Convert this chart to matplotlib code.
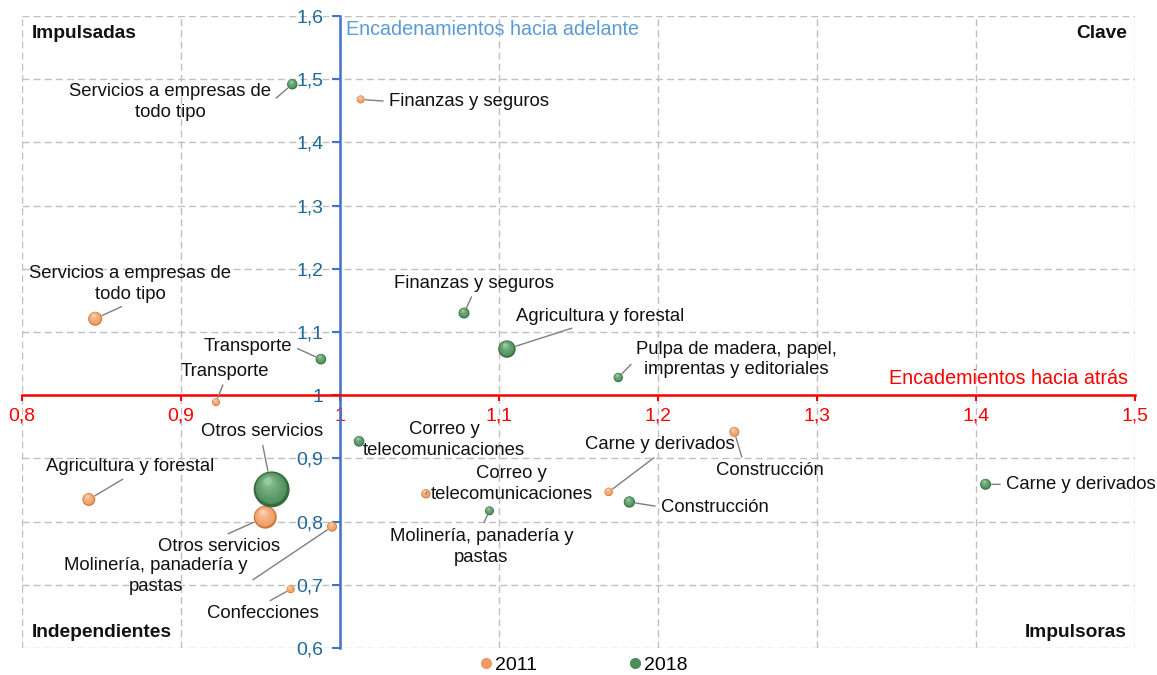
import numpy as np
import matplotlib
matplotlib.use("Agg")
import matplotlib.pyplot as plt
from matplotlib.ticker import FuncFormatter
from matplotlib.transforms import offset_copy
from matplotlib.lines import Line2D

plt.rcParams['font.family'] = ['Liberation Sans', 'DejaVu Sans']

# ---------------- data ----------------
sectores_2011 = ['Finanzas y seguros', 'Servicios a empresas de\ntodo tipo', 'Transporte',
                 'Agricultura y forestal', 'Otros servicios', 'Molinería, panadería y\npastas',
                 'Confecciones', 'Correo y\ntelecomunicaciones', 'Carne y derivados', 'Construcción']
atras_2011 = [1.013, 0.846, 0.922, 0.842, 0.953, 0.995, 0.969, 1.054, 1.169, 1.248]
adelante_2011 = [1.468, 1.121, 0.989, 0.835, 0.807, 0.792, 0.693, 0.844, 0.847, 0.942]
peso_2011 = [16, 49, 16, 42, 132, 25, 16, 22, 18, 25]

sectores_2018 = ['Servicios a empresas de\ntodo tipo', 'Finanzas y seguros', 'Agricultura y forestal',
                 'Transporte', 'Pulpa de madera, papel,\nimprentas y editoriales',
                 'Correo y\ntelecomunicaciones', 'Otros servicios', 'Molinería, panadería y\npastas',
                 'Construcción', 'Carne y derivados']
atras_2018 = [0.970, 1.078, 1.105, 0.988, 1.175, 1.012, 0.957, 1.094, 1.182, 1.406]
adelante_2018 = [1.492, 1.130, 1.073, 1.057, 1.028, 0.927, 0.851, 0.817, 0.831, 0.859]
peso_2018 = [27, 30, 76, 28, 22, 28, 324, 20, 32, 30]

# label offsets (pixels) relative to each point and leader attachment on the label box
off_2011 = [(108, -2), (35, 35), (9, 31), (41, 33), (-46, -29), (-176, -49),
            (-28, -24), (86, 10), (51, 47), (36, -39)]
rel_2011 = [(0, 0.5), (0.5, 0), (0.5, 0), (0.5, 0), (0.5, 1), (1, 0.3),
            (0.5, 1), (0, 0.5), (0.5, 0), (0.25, 1)]
off_2018 = [(-122, -18), (10, 30), (93, 33), (-73, 13), (118, 18), (85, 1),
            (-10, 58), (-8, -36), (85, -5), (95, 0)]
rel_2018 = [(1, 0.5), (0.5, 0), (0.4, 0), (1, 0.5), (0, 0.5), (0, 0.5),
            (0.5, 0), (0.5, 1), (0, 0.5), (0, 0.5)]

x_ticks = [0.8, 0.9, 1.0, 1.1, 1.2, 1.3, 1.4, 1.5]
y_ticks = [0.6, 0.7, 0.8, 0.9, 1.0, 1.1, 1.2, 1.3, 1.4, 1.5, 1.6]

# ---------------- figure ----------------
W, H = 1157, 675
fig = plt.figure(figsize=(W / 100, H / 100), dpi=100)
ax = fig.add_axes([22 / W, (H - 648) / H, (1135 - 22) / W, (648 - 16) / H])
ax.set_xlim(0.8, 1.5)
ax.set_ylim(0.6, 1.6)
ax.set_xticks(x_ticks)
ax.set_yticks(y_ticks)


def fmt(v, pos=None):
    s = f'{v:.1f}'
    if s.endswith('.0'):
        s = s[:-2]
    return s.replace('.', ',')


ax.xaxis.set_major_formatter(FuncFormatter(fmt))
ax.yaxis.set_major_formatter(FuncFormatter(fmt))

ax.grid(True, color='#BFBFBF', linestyle=(0, (5, 3)), linewidth=1)
ax.set_axisbelow(True)
for g in ax.get_xgridlines() + ax.get_ygridlines():
    g.set_clip_on(False)

ax.spines['top'].set_visible(False)
ax.spines['right'].set_visible(False)
ax.spines['left'].set_position(('data', 1.0))
ax.spines['bottom'].set_position(('data', 1.0))
ax.spines['left'].set_color('#4472C4')
ax.spines['left'].set_linewidth(1.8)
ax.spines['bottom'].set_color('#FF0000')
ax.spines['bottom'].set_linewidth(1.8)
ax.spines['left'].set_zorder(2.5)
ax.spines['bottom'].set_zorder(2.5)

ax.tick_params(axis='x', direction='out', length=4, width=1.5, color='#FF0000',
               labelcolor='#FF0000', labelsize=14, pad=5)
ax.tick_params(axis='y', direction='out', length=6, width=1.5, color='#4472C4',
               labelcolor='#1F6A96', labelsize=14, pad=6)

# ---------------- bubbles ----------------
SCALE = 2.07  # points^2 per weight unit


def sphere(x, y, peso, dark, base, light):
    s = peso * SCALE
    r_pt = np.sqrt(s) / 2
    ax.scatter([x], [y], s=s, color=dark, edgecolors='none', zorder=3)
    n = 9
    for i in range(1, n + 1):
        t = i / n
        frac = 1 - 0.8 * t
        c = np.array(matplotlib.colors.to_rgb(base)) * (1 - t) ** 0.6 + \
            np.array(matplotlib.colors.to_rgb(light)) * (1 - (1 - t) ** 0.6)
        if i == 1:
            c = matplotlib.colors.to_rgb(base)
        dx = -(1 - frac) * r_pt * 0.25
        dy = (1 - frac) * r_pt * 0.55
        tr = offset_copy(ax.transData, fig=fig, x=dx, y=dy, units='points')
        ax.scatter([x], [y], s=s * (frac * (0.96 if i == 1 else 1)) ** 2, color=c,
                   edgecolors='none', zorder=3, transform=tr)
    return r_pt


orange = ('#D07538', '#EE9A60', '#FAD0B0')
green = ('#336A3E', '#4D8D5A', '#97CBA2')


def draw_series(xs, ys, pesos, names, offs, rels, cols):
    for x, y, p, nm, (dx, dy), rp in zip(xs, ys, pesos, names, offs, rels):
        r_pt = sphere(x, y, p, *cols)
        ax.annotate(nm, xy=(x, y), xytext=(dx, dy), textcoords='offset pixels',
                    ha='center', va='center', multialignment='center', fontsize=13.3,
                    color='#111111', zorder=4, linespacing=1.3,
                    arrowprops=dict(arrowstyle='-', color='#7F7F7F', lw=1, relpos=rp,
                                    shrinkA=2, shrinkB=r_pt + 0.5))


draw_series(atras_2011, adelante_2011, peso_2011, sectores_2011, off_2011, rel_2011, orange)
draw_series(atras_2018, adelante_2018, peso_2018, sectores_2018, off_2018, rel_2018, green)

# ---------------- texts ----------------
qkw = dict(transform=ax.transAxes, fontsize=13.8, fontweight='bold', color='#111111', va='center')
ax.text(0.009, 0.973, 'Impulsadas', ha='left', **qkw)
ax.text(0.9928, 0.973, 'Clave', ha='right', **qkw)
ax.text(0.009, 0.024, 'Independientes', ha='left', **qkw)
ax.text(0.9928, 0.024, 'Impulsoras', ha='right', **qkw)

ax.text(0.291, 0.978, 'Encadenamientos hacia adelante', transform=ax.transAxes,
        fontsize=14.2, color='#5B9BD5', ha='left', va='center')
ax.text(0.9937, 0.427, 'Encademientos hacia atrás', transform=ax.transAxes,
        fontsize=14.2, color='#FF0000', ha='right', va='center')

# ---------------- legend ----------------
handles = [Line2D([], [], linestyle='none', marker='o', markersize=7,
                  markerfacecolor=orange[1], markeredgecolor=orange[1], label='2011'),
           Line2D([], [], linestyle='none', marker='o', markersize=7,
                  markerfacecolor=green[1], markeredgecolor=green[1], label='2018')]
fig.legend(handles=handles, loc='center', bbox_to_anchor=(584 / W, 10 / H), ncol=2,
           frameon=False, fontsize=14, handlelength=0.5, handletextpad=0.2,
           columnspacing=4.8, borderpad=0)

fig.savefig('out.png', dpi=100)
